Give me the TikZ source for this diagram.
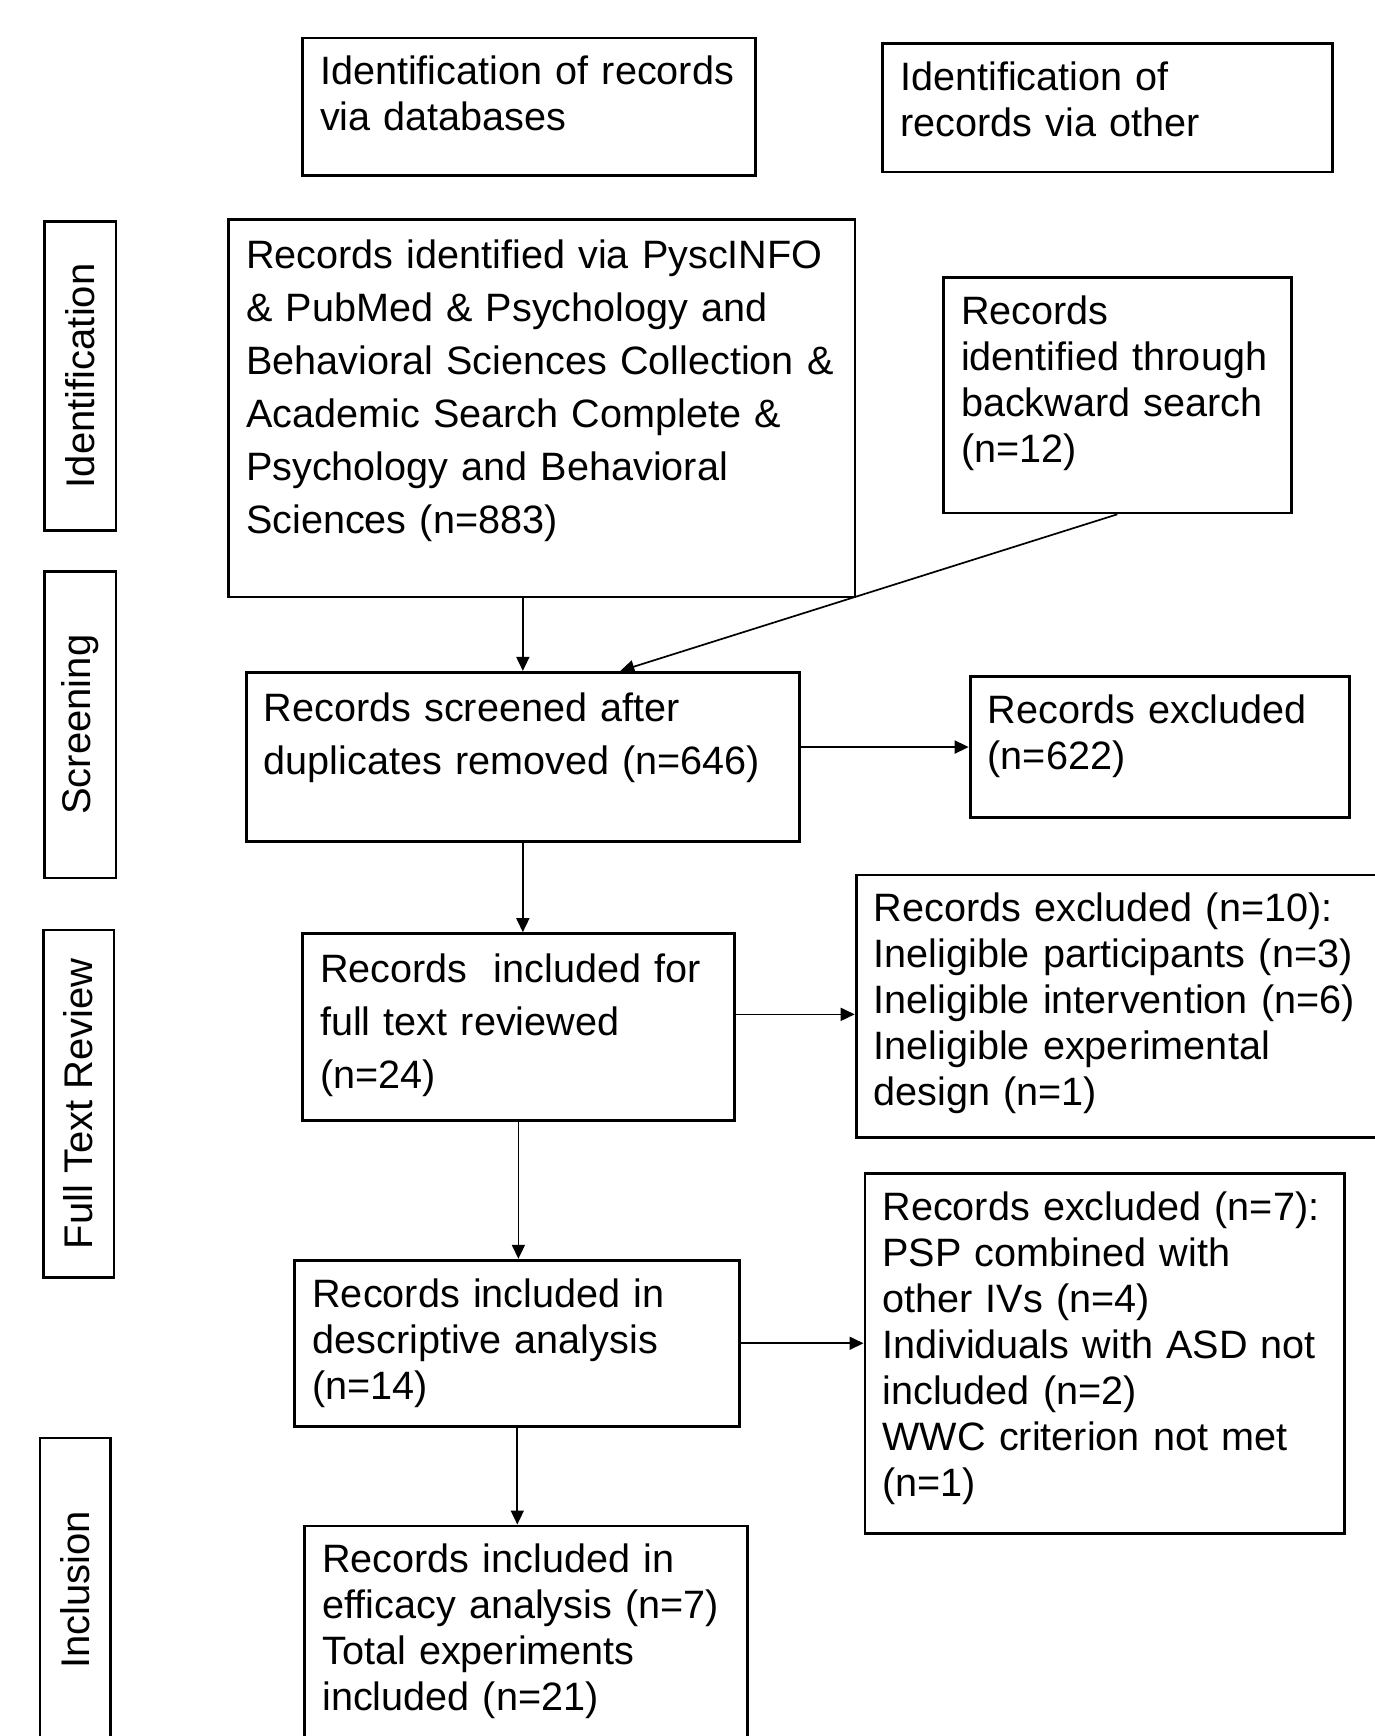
\documentclass[tikz,border=0pt]{standalone}
\usepackage{fontspec}
\setmainfont{Liberation Sans}
\usetikzlibrary{arrows.meta}

\begin{document}
\begin{tikzpicture}[x=0.5pt, y=-0.5pt,
    box/.style={draw, line width=1.4pt, anchor=north west, align=left,
        inner xsep=8.8pt, inner ysep=9.5pt, text height=14pt,
        font=\fontsize{19.8}{23}\selectfont},
    wide/.style={text height=15pt, font=\fontsize{19.8}{26.5}\selectfont},
    stage/.style={draw, line width=1.4pt, rotate=90, inner sep=0pt,
        minimum height=35.8pt, font=\fontsize{20}{24}\selectfont},
    arr/.style={-{Triangle[length=7pt, width=6.5pt]}, line width=0.85pt}]

    \useasboundingbox (0,0) rectangle (1375,1736);

    % Top row: where the records come from
    \node[box, text width=208.8pt, text depth=35.7pt] (db) at (301.1,36.5)
        {Identification of records\\via databases};
    \node[box, text width=207.1pt, text depth=31.2pt] (other) at (881.3,42.1)
        {Identification of\\records via other};

    % Stage labels on the left
    \node[stage, minimum width=154.45pt] (sid) at (80.25,375.85) {Identification};
    \node[stage, minimum width=153.35pt] (sscr) at (80.25,724.65) {Screening};
    \node[stage, minimum width=173.8pt, minimum height=35.4pt] (sfull) at (78.6,1103.8) {Full Text Review};
    \node[stage, minimum width=151.75pt, minimum height=35.4pt] (sinc) at (75.3,1589.75) {Inclusion};

    % Identification
    \node[box, wide, text width=295.7pt, text depth=154.75pt] (big) at (227,218.1)
        {Records identified via PyscINFO\\\& PubMed \& Psychology and\\Behavioral Sciences Collection \&\\Academic Search Complete \&\\Psychology and Behavioral\\Sciences (n=883)};
    \node[box, text width=156.25pt, text depth=84.9pt] (back) at (942.1,275.7)
        {Records\\identified through\\backward search\\(n=12)};

    % Screening
    \node[box, wide, text width=259.15pt, text depth=50.7pt] (scr) at (244.7,670.9)
        {Records screened after\\duplicates removed (n=646)};
    \node[box, text width=172.25pt, text depth=37.35pt] (ex1) at (968.7,675.3)
        {Records excluded\\(n=622)};

    % Full text review
    \node[box, wide, text width=198.3pt, text depth=59.55pt] (full) at (301.1,932.2)
        {Records\ \ included for\\full text reviewed\\(n=24)};
    \node[box, text width=252.4pt, text depth=98.2pt] (ex2) at (854.7,873.5)
        {Records excluded (n=10):\\Ineligible participants (n=3)\\Ineligible intervention (n=6)\\Ineligible experimental\\design (n=1)};

    \node[box, text width=204.9pt, text depth=50.05pt] (desc) at (293.4,1258.8)
        {Records included in\\descriptive analysis\\(n=14)};
    \node[box, text width=222.1pt, text depth=146.95pt] (ex3) at (863.5,1172.4)
        {Records excluded (n=7):\\PSP combined with\\other IVs (n=4)\\Individuals with ASD not\\included (n=2)\\WWC criterion not met\\(n=1)};

    % Inclusion
    \node[box, text width=203.85pt, text depth=97pt] (eff) at (303.3,1524.5)
        {Records included in\\efficacy analysis (n=7)\\Total experiments\\included (n=21)};

    % Draw arrows
    \draw[arr] (scr.north |- big.south) -- (scr.north);
    \draw[arr] (back.south) -- ([xshift=48.75pt]scr.north);
    \draw[arr] (scr.east |- ex1.west) -- (ex1.west);
    \draw[arr] (scr.south) -- (scr.south |- full.north);
    \draw[arr] ([yshift=6.4pt]full.east) -- ([yshift=6.4pt]full.east -| ex2.west);
    \draw[arr] (full.south) -- (full.south |- desc.north);
    \draw[arr] (desc.east) -- (desc.east -| ex3.west);
    \draw[arr] (desc.south) -- (desc.south |- eff.north);

\end{tikzpicture}
\end{document}
